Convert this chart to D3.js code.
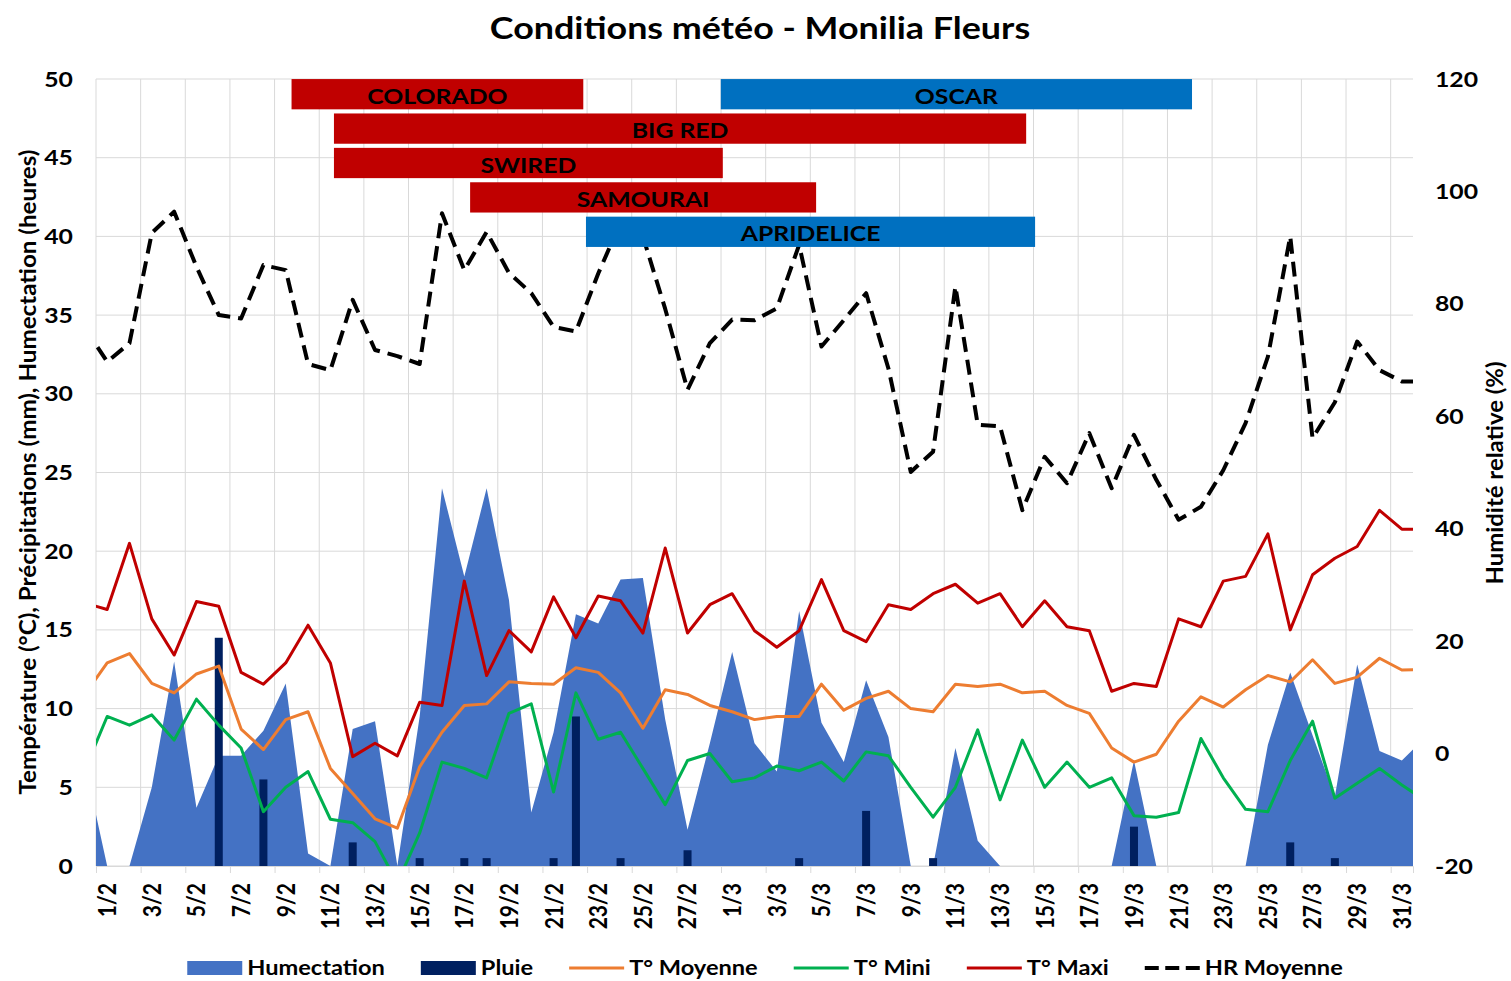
<!DOCTYPE html>
<html>
<head>
<meta charset="utf-8">
<script src="https://cdn.jsdelivr.net/npm/d3@7"></script>
<style>
  html,body{margin:0;padding:0;background:#fff}
  svg{display:block}
  text{font-family:Lato,'Open Sans',sans-serif;font-weight:700;fill:#000}
</style>
</head>
<body>
<svg id="chart" width="1511" height="981"></svg>
<script>
/* ── DATA (31/1 and 1/4 only feed the clipped edges) ── */
const days=['31/1',
  '1/2','2/2','3/2','4/2','5/2','6/2','7/2','8/2','9/2','10/2','11/2','12/2','13/2','14/2',
  '15/2','16/2','17/2','18/2','19/2','20/2','21/2','22/2','23/2','24/2','25/2','26/2','27/2','28/2',
  '1/3','2/3','3/3','4/3','5/3','6/3','7/3','8/3','9/3','10/3','11/3','12/3','13/3','14/3','15/3','16/3',
  '17/3','18/3','19/3','20/3','21/3','22/3','23/3','24/3','25/3','26/3','27/3','28/3','29/3','30/3','31/3',
  '1/4'];

const humect=[6.5,
  0,0,5.0,13.0,3.7,7.0,7.0,8.6,11.6,0.8,0,8.7,9.2,0,
  9.5,24.0,18.4,24.0,16.9,3.4,8.5,16.0,15.4,18.2,18.3,9.3,2.3,7.8,
  13.6,7.8,6.0,16.2,9.1,6.6,11.8,8.2,0,0,7.5,1.6,0,0,0,0,
  0,0,6.7,0,0,0,0,0,7.7,12.3,8.3,4.4,12.8,7.3,6.7,
  8.1];

const pluie=[0,
  0,0,0,0,0,14.5,0,5.5,0,0,0,1.5,0,0,
  0.5,0,0.5,0.5,0,0,0.5,9.5,0,0.5,0,0,1.0,0,
  0,0,0,0.5,0,0,3.5,0,0,0.5,0,0,0,0,0,0,
  0,0,2.5,0,0,0,0,0,0,1.5,0,0.5,0,0,0,
  0];

const tMoy=[10.9,
  12.9,13.5,11.6,11.0,12.2,12.7,8.7,7.4,9.3,9.8,6.2,4.6,3.0,2.4,
  6.3,8.5,10.2,10.3,11.7,11.6,11.55,12.6,12.3,11.0,8.75,11.2,10.9,10.2,
  9.8,9.3,9.5,9.5,11.55,9.9,10.65,11.1,10.0,9.8,11.55,11.4,11.55,11.0,11.1,10.2,
  9.7,7.5,6.6,7.1,9.2,10.75,10.1,11.2,12.1,11.7,13.1,11.6,12.0,13.2,12.45,
  12.5];

const tMin=[6.1,
  9.5,8.95,9.6,8.0,10.6,8.95,7.5,3.45,5.0,6.0,2.97,2.75,1.55,-1.1,
  2.1,6.6,6.2,5.6,9.7,10.3,4.7,11.0,8.05,8.5,6.2,3.9,6.7,7.15,
  5.35,5.6,6.35,6.05,6.6,5.4,7.25,7.0,5.0,3.1,5.0,8.65,4.2,8.0,5.0,6.6,
  5.0,5.6,3.2,3.1,3.4,8.1,5.6,3.6,3.45,6.7,9.2,4.3,5.25,6.2,5.15,
  4.2];

const tMax=[16.7,
  16.3,20.5,15.7,13.4,16.8,16.5,12.3,11.55,12.9,15.3,12.9,6.95,7.8,7.0,
  10.4,10.2,18.1,12.1,14.95,13.6,17.1,14.5,17.15,16.85,14.8,20.2,14.8,16.6,
  17.3,14.95,13.9,14.95,18.2,14.95,14.25,16.6,16.3,17.3,17.9,16.7,17.3,15.2,16.85,15.2,
  14.95,11.1,11.6,11.4,15.7,15.2,18.1,18.4,21.1,15.0,18.5,19.55,20.3,22.6,21.4,
  21.4];

const hrMoy=[75.7,
  69.7,73.0,92.6,96.4,86.6,78.0,77.4,86.9,86.0,69.3,68.2,80.7,71.8,70.7,
  69.3,96.1,86.0,92.8,85.5,81.9,75.9,75.1,85.4,94.5,92.0,79.1,64.7,73.0,
  77.2,77.1,79.2,90.5,72.4,77.1,81.9,68.5,50.1,53.7,83.1,58.5,58.2,43.3,52.8,48.1,
  57.0,47.2,56.7,48.7,41.6,43.9,50.4,58.8,70.6,92.0,56.1,62.5,73.3,68.2,66.2,
  66.2];

// flowering periods, in days counted from the start of 1/2
const varNames=['COLORADO','OSCAR','BIG RED','SWIRED','SAMOURAI','APRIDELICE'];
const varRow  =[0,0,1,2,3,4];
const varStart=[8.76,27.99,10.66,10.66,16.76,21.95];
const varEnd  =[21.83,49.1,41.67,28.08,32.26,42.07];
const varGroup=['rouge','bleu','rouge','rouge','rouge','bleu'];

const leftTicks=d3.range(0,51,5);
const rightTicks=d3.range(-20,121,20);

const TITLE='Conditions météo - Monilia Fleurs';
const Y_LEFT='Température (°C), Précipitations (mm), Humectation (heures)';
const Y_RIGHT='Humidité relative (%)';

/* ── LAYOUT ── */
const M={l:96,r:1413,t:79,b:866};
const SX=1.18; // the source picture is a bit stretched horizontally
const C={hum:'#4472C4',pluie:'#002060',moy:'#ED7D31',min:'#00B050',max:'#C00000',hr:'#000',
         grid:'#D9D9D9',rouge:'#C00000',bleu:'#0070C0'};

const svg=d3.select('#chart');
const nVis=days.length-2;
const x=d3.scaleLinear().domain([0,nVis]).range([M.l,M.r]);
const yL=d3.scaleLinear().domain([0,50]).range([M.b,M.t]);
const yR=d3.scaleLinear().domain([-20,120]).range([M.b,M.t]);
const px=i=>x(i-0.5); // array index -> centre of its day

function label(parent,tx,ty,str,size,anchor,rot){
  return parent.append('text')
    .attr('transform',`translate(${tx},${ty}) scale(${SX},1)`+(rot?` rotate(${rot})`:''))
    .attr('text-anchor',anchor||'middle').attr('font-size',size+'px').text(str);
}

svg.append('defs').append('clipPath').attr('id','plot')
  .append('rect').attr('x',M.l).attr('y',M.t).attr('width',M.r-M.l).attr('height',M.b-M.t);

// Grid
const grid=svg.append('g');
grid.selectAll('line.h').data(leftTicks).join('line').attr('class','h')
  .attr('x1',M.l).attr('x2',M.r).attr('y1',d=>yL(d)).attr('y2',d=>yL(d))
  .attr('stroke',C.grid).attr('stroke-width',1);
grid.selectAll('line.v').data(d3.range(0,nVis,2)).join('line').attr('class','v')
  .attr('x1',d=>x(d)).attr('x2',d=>x(d)).attr('y1',M.t).attr('y2',M.b)
  .attr('stroke',C.grid).attr('stroke-width',1);

// x tick marks
svg.append('g').attr('transform',`translate(0,${M.b})`)
  .call(d3.axisBottom(x).tickValues(d3.range(0,nVis,2)).tickSize(7).tickFormat(''))
  .call(g=>{g.select('.domain').attr('stroke',C.grid);g.selectAll('line').attr('stroke',C.grid)});

const plot=svg.append('g').attr('clip-path','url(#plot)');

// Humectation area
plot.append('path').datum(humect)
  .attr('d',d3.area().x((d,i)=>px(i)).y0(yL(0)).y1(d=>yL(d)))
  .attr('fill',C.hum);

// Pluie bars
plot.selectAll('rect.pluie').data(pluie).join('rect').attr('class','pluie')
  .attr('x',(d,i)=>px(i)-4).attr('width',8)
  .attr('y',d=>yL(d)).attr('height',d=>yL(0)-yL(d))
  .attr('fill',C.pluie);

// Lines
const lineL=d3.line().x((d,i)=>px(i)).y(d=>yL(d));
[[tMoy,C.moy],[tMin,C.min],[tMax,C.max]].forEach(([s,c])=>{
  plot.append('path').datum(s).attr('d',lineL)
    .attr('fill','none').attr('stroke',c).attr('stroke-width',3)
    .attr('stroke-linejoin','round');
});
plot.append('path').datum(hrMoy)
  .attr('d',d3.line().x((d,i)=>px(i)).y(d=>yR(d)))
  .attr('fill','none').attr('stroke',C.hr).attr('stroke-width',4)
  .attr('stroke-dasharray','15 8').attr('stroke-linejoin','round');

// Flowering bars
const rows=d3.scaleBand().domain(d3.range(5)).range([77,249]).paddingInner(0.12).paddingOuter(0.06);
const vg=svg.append('g');
varNames.forEach((n,i)=>{
  const x0=x(varStart[i]), x1=x(varEnd[i]), yb=rows(varRow[i]);
  vg.append('rect').attr('x',x0).attr('y',yb).attr('width',x1-x0).attr('height',rows.bandwidth())
    .attr('fill',C[varGroup[i]]);
  label(vg,(x0+x1)/2,yb+rows.bandwidth()/2+2,n,21,'middle').attr('dy','0.36em');
});

// Axes labels
leftTicks.forEach(v=>label(svg,73,yL(v),v,21,'end').attr('dy','0.36em'));
rightTicks.forEach(v=>label(svg,1435,yR(v),v,21,'start').attr('dy','0.36em'));
days.slice(1,-1).forEach((d,k)=>{
  if(k%2)return;
  label(svg,x(k+0.5),883,d,21,'end',-90).attr('dy','0.36em');
});

// Titles
label(svg,760,39,TITLE,30.4,'middle');
label(svg,36,472,Y_LEFT,20,'middle',-90)
  .attr('textLength',645).attr('lengthAdjust','spacingAndGlyphs');
label(svg,1503,473,Y_RIGHT,20,'middle',-90)
  .attr('textLength',223).attr('lengthAdjust','spacingAndGlyphs');

// Legend
const items=[
  {k:'Humectation',t:'area',c:C.hum},
  {k:'Pluie',t:'area',c:C.pluie},
  {k:'T° Moyenne',t:'line',c:C.moy},
  {k:'T° Mini',t:'line',c:C.min},
  {k:'T° Maxi',t:'line',c:C.max},
  {k:'HR Moyenne',t:'dash',c:C.hr},
];
const lg=svg.append('g'), LY=968, SW=55;
let cx=0;
items.forEach(it=>{
  const g=lg.append('g');
  if(it.t==='area')
    g.append('rect').attr('x',cx).attr('y',LY-7).attr('width',SW).attr('height',14).attr('fill',it.c);
  else
    g.append('line').attr('x1',cx).attr('x2',cx+SW).attr('y1',LY).attr('y2',LY)
      .attr('stroke',it.c).attr('stroke-width',it.t==='dash'?4:3)
      .attr('stroke-dasharray',it.t==='dash'?'14 6.5':null);
  const t=label(g,cx+SW+5,LY,it.k,20,'start').attr('dy','0.36em');
  cx+=SW+5+t.node().getComputedTextLength()*SX+36;
});
const lw=cx-36;
lg.attr('transform',`translate(${765-lw/2},0)`);
</script>
</body>
</html>
